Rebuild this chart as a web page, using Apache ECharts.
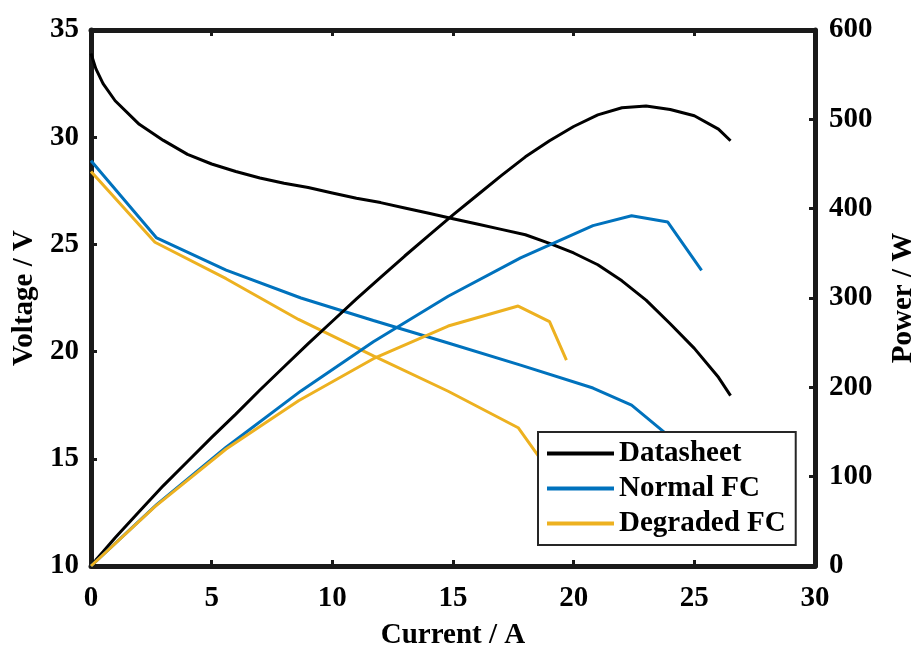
<!DOCTYPE html>
<html>
<head>
<meta charset="utf-8">
<script src="https://cdn.jsdelivr.net/npm/echarts@6/dist/echarts.min.js"></script>
<style>html,body{margin:0;padding:0;background:#fff;}#c{width:914px;height:645px;}</style>
</head>
<body>
<div id="c"></div>
<script>
// Datasheet
const dsCurrent = [0, 0.2, 0.5, 1, 2, 3, 4, 5, 6, 7, 8, 9, 10, 11, 12, 13, 14, 15, 16, 17, 18, 19, 20, 21, 22, 23, 24, 25, 26, 26.5];
const dsVoltage = [33.9, 33.2, 32.5, 31.7, 30.6, 29.85, 29.2, 28.75, 28.4, 28.1, 27.85, 27.65, 27.4, 27.15, 26.95, 26.7, 26.45, 26.2, 25.95, 25.7, 25.45, 25.05, 24.6, 24.05, 23.3, 22.4, 21.3, 20.15, 18.8, 17.95];
const dsPower   = [0, 6.6, 16, 31.7, 61, 90, 117, 144, 170, 197, 223, 249, 274, 299, 323, 347, 370, 393, 415, 437, 458, 476, 492, 505, 513, 515, 511, 504, 489, 476];
// Normal FC
const nCurrent = [0, 2.72, 5.6, 8.7, 11.7, 14.8, 17.8, 20.8, 22.4, 23.9, 25.3];
const nVoltage = [28.9, 25.3, 23.8, 22.5, 21.45, 20.4, 19.37, 18.3, 17.5, 16.1, 13.1];
const nPower   = [0, 68.8, 133, 196, 251, 302, 345, 381, 392, 385, 331];
// Degraded FC
const dCurrent = [0, 2.65, 5.6, 8.6, 11.7, 14.8, 17.7, 19.0, 19.7];
const dVoltage = [28.4, 25.1, 23.4, 21.5, 19.8, 18.15, 16.45, 14.4, 11.7];
const dPower   = [0, 66.5, 131, 185, 232, 268.6, 291, 273.6, 230.5];

const xTicks = [0, 5, 10, 15, 20, 25, 30];
const vTicks = [10, 15, 20, 25, 30, 35];
const pTicks = [0, 100, 200, 300, 400, 500, 600];

const names = ['Datasheet', 'Normal FC', 'Degraded FC'];
const colors = ['#000000', '#0072BD', '#EDB120'];

const pair = (xs, ys) => xs.map((x, i) => [x, ys[i]]);
const FONT = 'Liberation Serif';
const AX = '#1a1a1a';

const mkSeries = (name, color, data, yIdx) => ({
  name, type: 'line', data, yAxisIndex: yIdx, xAxisIndex: 0,
  showSymbol: false, symbol: 'none', smooth: false,
  lineStyle: {color, width: 3}, itemStyle: {color}, z: 2
});

const series = [
  mkSeries(names[0], colors[0], pair(dsCurrent, dsVoltage), 0),
  mkSeries(names[1], colors[1], pair(nCurrent, nVoltage), 0),
  mkSeries(names[2], colors[2], pair(dCurrent, dVoltage), 0),
  mkSeries(names[0], colors[0], pair(dsCurrent, dsPower), 1),
  mkSeries(names[1], colors[1], pair(nCurrent, nPower), 1),
  mkSeries(names[2], colors[2], pair(dCurrent, dPower), 1)
];

const labelStyle = {fontFamily: FONT, fontWeight: 'bold', fontSize: 29, color: '#000'};

const chart = echarts.init(document.getElementById('c'), null, {renderer: 'canvas'});
chart.setOption({
  animation: false,
  backgroundColor: '#fff',
  grid: {left: 91, right: 99, top: 30, bottom: 79, containLabel: false, outerBoundsMode: 'none'},
  legend: {
    data: names, orient: 'vertical', left: 538, top: 432,
    icon: 'rect', itemWidth: 67, itemHeight: 4, itemGap: 6,
    padding: [7, 10, 7, 9],
    backgroundColor: '#fff', borderColor: '#262626', borderWidth: 2,
    textStyle: {fontFamily: FONT, fontWeight: 'bold', fontSize: 29, color: '#000'},
    selectedMode: false, z: 10
  },
  xAxis: [
    {type: 'value', min: xTicks[0], max: xTicks[xTicks.length - 1], interval: 5, position: 'bottom',
     name: 'Current / A', nameLocation: 'middle', nameGap: 55,
     nameTextStyle: labelStyle,
     axisLine: {show: true, onZero: false, lineStyle: {color: AX, width: 5}},
     axisTick: {inside: true, length: 6, lineStyle: {color: AX, width: 3}},
     axisLabel: Object.assign({margin: 18}, labelStyle),
     splitLine: {show: false}},
    {type: 'value', min: xTicks[0], max: xTicks[xTicks.length - 1], interval: 5, position: 'top',
     axisLine: {show: true, onZero: false, lineStyle: {color: AX, width: 5}},
     axisTick: {inside: true, length: 6, lineStyle: {color: AX, width: 3}},
     axisLabel: {show: false}, splitLine: {show: false}}
  ],
  yAxis: [
    {type: 'value', min: vTicks[0], max: vTicks[vTicks.length - 1], interval: 5, position: 'left',
     name: 'Voltage / V', nameLocation: 'middle', nameGap: 49, nameRotate: 90,
     nameTextStyle: labelStyle,
     axisLine: {show: true, onZero: false, lineStyle: {color: AX, width: 5}},
     axisTick: {inside: true, length: 6, lineStyle: {color: AX, width: 3}},
     axisLabel: Object.assign({margin: 12}, labelStyle),
     splitLine: {show: false}},
    {type: 'value', min: pTicks[0], max: pTicks[pTicks.length - 1], interval: 100, position: 'right',
     name: 'Power / W', nameLocation: 'middle', nameGap: 74, nameRotate: 90,
     nameTextStyle: labelStyle,
     axisLine: {show: true, onZero: false, lineStyle: {color: AX, width: 5}},
     axisTick: {inside: true, length: 6, lineStyle: {color: AX, width: 3}},
     axisLabel: Object.assign({margin: 14}, labelStyle),
     splitLine: {show: false}}
  ],
  series
});
</script>
</body>
</html>
